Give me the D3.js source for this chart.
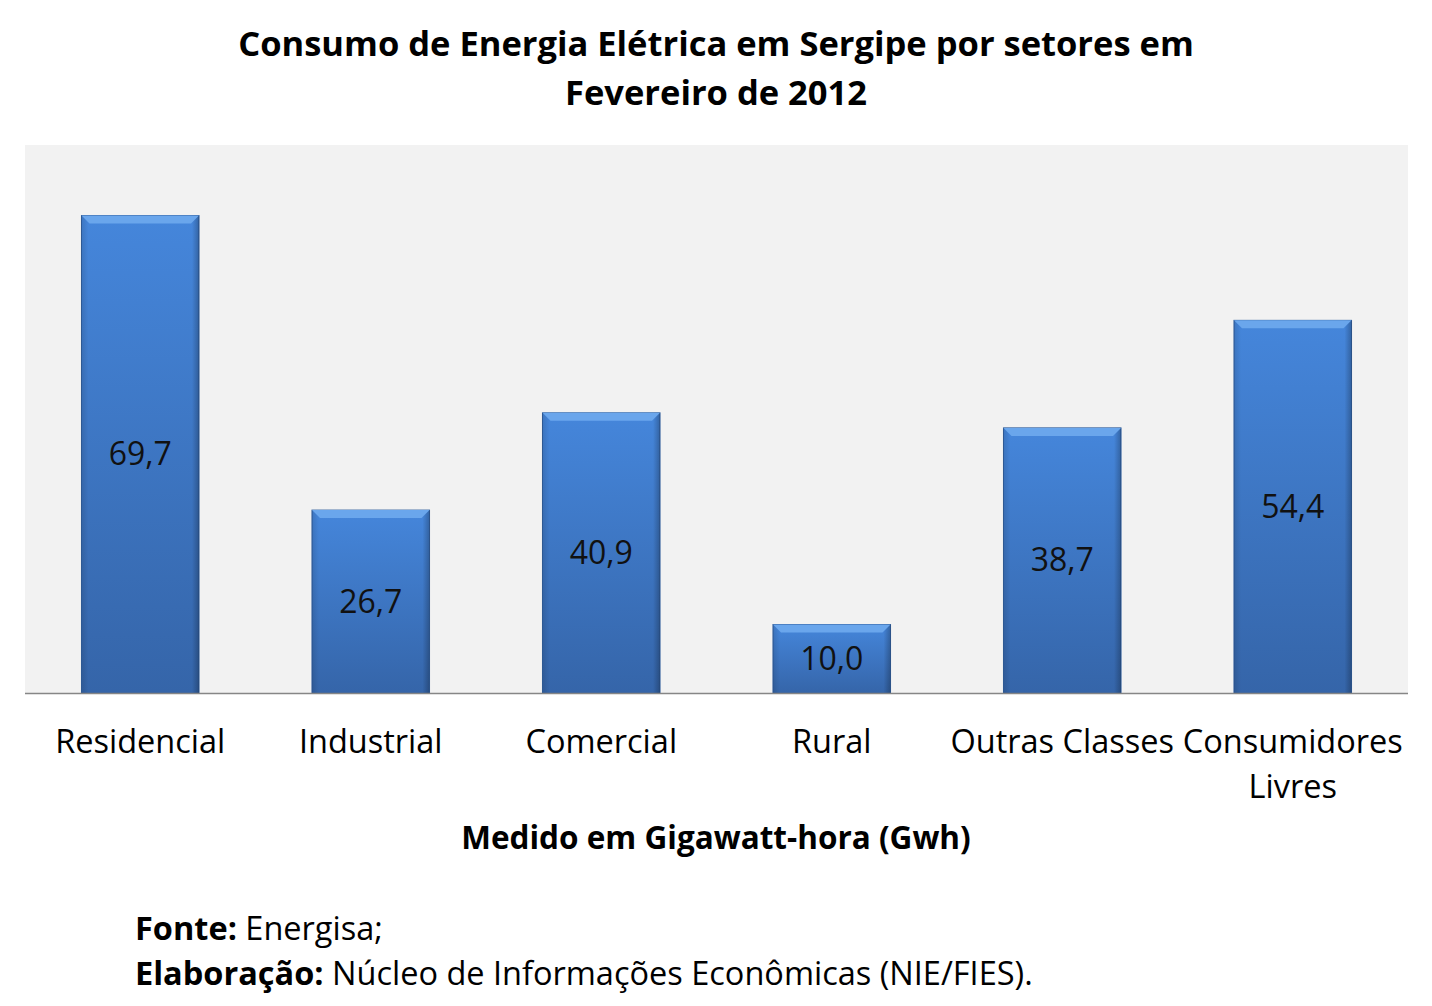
<!DOCTYPE html>
<html>
<head>
<meta charset="utf-8">
<script src="https://cdn.jsdelivr.net/npm/d3@7"></script>
<style>
  body { margin: 0; background: #fff; }
  svg text { font-family: "Open Sans", Lato, sans-serif; }
</style>
</head>
<body>
<div id="chart"></div>
<script>
const categories = ["Residencial", "Industrial", "Comercial", "Rural", "Outras Classes", "Consumidores Livres"];
const values = [69.7, 26.7, 40.9, 10.0, 38.7, 54.4];
const titleLines = ["Consumo de Energia Elétrica em Sergipe por setores em", "Fevereiro de 2012"];
const axisTitle = "Medido em Gigawatt-hora (Gwh)";

const width = 1432, height = 1006;
const plot = { left: 25, right: 1408, top: 145, bottom: 693 };

const svg = d3.select("#chart").append("svg")
  .attr("width", width).attr("height", height);

const defs = svg.append("defs");
const grad = defs.append("linearGradient").attr("id", "barGrad")
  .attr("x1", 0).attr("y1", 0).attr("x2", 0).attr("y2", 1);
grad.append("stop").attr("offset", "0%").attr("stop-color", "#4586db");
grad.append("stop").attr("offset", "100%").attr("stop-color", "#3565a9");
const side = defs.append("linearGradient").attr("id", "sideGrad")
  .attr("x1", 0).attr("y1", 0).attr("x2", 1).attr("y2", 0);
side.append("stop").attr("offset", "0%").attr("stop-color", "#000").attr("stop-opacity", 0.12);
side.append("stop").attr("offset", "6%").attr("stop-color", "#000").attr("stop-opacity", 0);
side.append("stop").attr("offset", "94%").attr("stop-color", "#000").attr("stop-opacity", 0);
side.append("stop").attr("offset", "100%").attr("stop-color", "#000").attr("stop-opacity", 0.25);

// plot background
svg.append("rect")
  .attr("x", plot.left).attr("y", plot.top)
  .attr("width", plot.right - plot.left).attr("height", plot.bottom - plot.top)
  .attr("fill", "#f2f2f2");

const x = d3.scaleBand().domain(categories)
  .range([plot.left, plot.right]).paddingInner(0.49).paddingOuter(0.245);
const y = d3.scaleLinear().domain([0, 80]).range([plot.bottom, plot.top]);

const bars = svg.append("g").selectAll("g")
  .data(categories.map((c, i) => ({ cat: c, val: values[i] })))
  .join("g");

bars.append("rect")
  .attr("x", d => x(d.cat)).attr("y", d => y(d.val))
  .attr("width", x.bandwidth()).attr("height", d => y(0) - y(d.val))
  .attr("fill", "url(#barGrad)")
  .attr("stroke", "#2f5d9c").attr("stroke-width", 1);

bars.append("rect")
  .attr("x", d => x(d.cat)).attr("y", d => y(d.val))
  .attr("width", x.bandwidth()).attr("height", d => y(0) - y(d.val))
  .attr("fill", "url(#sideGrad)");

// bevel highlight on top
bars.append("path")
  .attr("d", d => {
    const x0 = x(d.cat), x1 = x0 + x.bandwidth(), y0 = y(d.val);
    return `M${x0},${y0}L${x1},${y0}L${x1 - 8},${y0 + 8}L${x0 + 8},${y0 + 8}Z`;
  })
  .attr("fill", "#6aa6ec");

bars.append("text")
  .attr("x", d => x(d.cat) + x.bandwidth() / 2)
  .attr("y", d => (y(d.val) + y(0)) / 2 + 11)
  .attr("text-anchor", "middle")
  .attr("font-size", 32)
  .attr("fill", "#111")
  .text(d => d3.format(".1f")(d.val).replace(".", ","));

// baseline
svg.append("line")
  .attr("x1", plot.left).attr("x2", plot.right)
  .attr("y1", plot.bottom + 0.5).attr("y2", plot.bottom + 0.5)
  .attr("stroke", "#868686").attr("stroke-width", 1.5);

// category labels
const labels = svg.append("g").selectAll("text")
  .data(categories).join("text")
  .attr("text-anchor", "middle")
  .attr("font-size", 32.5)
  .attr("fill", "#000")
  .attr("x", d => x(d) + x.bandwidth() / 2)
  .attr("y", 753);
labels.each(function (d) {
  const t = d3.select(this);
  const words = d === "Consumidores Livres" ? ["Consumidores", "Livres"] : [d];
  words.forEach((w, i) => {
    t.append("tspan").attr("x", x(d) + x.bandwidth() / 2).attr("dy", i ? 45 : 0).text(w);
  });
});

// title
svg.append("text")
  .attr("x", 716).attr("text-anchor", "middle")
  .attr("font-size", 34.5).attr("font-weight", "bold")
  .selectAll("tspan").data(titleLines).join("tspan")
  .attr("x", 716).attr("y", (d, i) => 56 + i * 49)
  .text(d => d);

svg.append("text")
  .attr("x", 716).attr("y", 849).attr("text-anchor", "middle")
  .attr("font-size", 31.5).attr("font-weight", "bold")
  .text(axisTitle);

// footer
const foot = svg.append("g").attr("font-size", 32.5);
const f1 = foot.append("text").attr("x", 135).attr("y", 940);
f1.append("tspan").attr("font-weight", "bold").text("Fonte:");
f1.append("tspan").text(" Energisa;");
const f2 = foot.append("text").attr("x", 135).attr("y", 985);
f2.append("tspan").attr("font-weight", "bold").text("Elaboração:");
f2.append("tspan").text(" Núcleo de Informações Econômicas (NIE/FIES).");
</script>
</body>
</html>
